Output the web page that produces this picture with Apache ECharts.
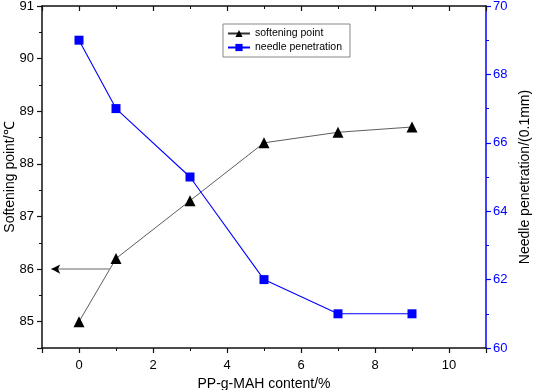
<!DOCTYPE html>
<html>
<head>
<meta charset="utf-8">
<script src="https://cdn.jsdelivr.net/npm/echarts@6/dist/echarts.min.js"></script>
<style>
html,body{margin:0;padding:0;background:#fff;}
#main{width:533px;height:390px;}
</style>
</head>
<body>
<div id="main"></div>
<script>
var content = [0, 1, 3, 5, 7, 9];
var softening = [85.0, 86.2, 87.3, 88.4, 88.6, 88.7];
var needle = [69, 67, 65, 62, 61, 61];
// arrow pointing to the left axis: [from, to]
var arrowLine = [[0.85, 86], [-0.75, 86]];

var myChart = echarts.init(document.getElementById('main'));

function pairs(xs, ys){
    var out = [];
    for (var i = 0; i < xs.length; i++) out.push([xs[i], ys[i]]);
    return out;
}

var font = 'Liberation Sans, Arial, sans-serif';
var black = '#111';
var blue = '#0000ff';

myChart.setOption({
    animation: false,
    grid: {left: 42, right: 47, top: 6, bottom: 42, outerBoundsMode: 'none', containLabel: false},
    legend: {
        left: 223, top: 24, orient: 'vertical',
        itemGap: 3, itemWidth: 22, itemHeight: 9,
        padding: [4, 8, 4, 4],
        borderColor: '#888', borderWidth: 1,
        textStyle: {fontFamily: font, fontSize: 10.5, color: '#000'},
        data: ['softening point', 'needle penetration']
    },
    xAxis: [{
        type: 'value', min: -1, max: 11,
        name: 'PP-g-MAH content/%', nameLocation: 'middle', nameGap: 28,
        nameTextStyle: {fontFamily: font, fontSize: 14, color: '#000'},
        axisLine: {onZero: false, lineStyle: {color: black, width: 1.5}},
        axisTick: {length: 5, lineStyle: {color: black, width: 1.2}},
        minorTick: {show: true, splitNumber: 2, length: 3, lineStyle: {color: black}},
        axisLabel: {showMinLabel: false, showMaxLabel: false, fontFamily: font, fontSize: 13, color: '#000', margin: 11},
        splitLine: {show: false}
    }, {
        type: 'value', min: -1, max: 11, position: 'top',
        axisLine: {onZero: false, lineStyle: {color: black, width: 1.5}},
        axisTick: {inside: true, length: 5, lineStyle: {color: black, width: 1.2}},
        minorTick: {show: true, splitNumber: 2, length: 3, lineStyle: {color: black}},
        axisLabel: {show: false},
        splitLine: {show: false}
    }],
    yAxis: [{
        type: 'value', min: 84.5, max: 91, splitNumber: 6,
        name: 'Softening point/℃', nameLocation: 'middle', nameGap: 25, nameMoveOverlap: false,
        nameTextStyle: {fontFamily: font, fontSize: 14, color: '#000'},
        axisLine: {show: true, onZero: false, lineStyle: {color: black, width: 1.5}},
        axisTick: {length: 5, lineStyle: {color: black, width: 1.2}},
        minorTick: {show: true, splitNumber: 2, length: 3, lineStyle: {color: black}},
        axisLabel: {showMinLabel: false, fontFamily: font, fontSize: 13, color: '#000', margin: 8},
        splitLine: {show: false}
    }, {
        type: 'value', min: 60, max: 70, interval: 2, position: 'right',
        name: 'Needle penetration/(0.1mm)', nameLocation: 'middle', nameGap: 30, nameRotate: 90,
        nameTextStyle: {fontFamily: font, fontSize: 14, color: '#000'},
        axisLine: {show: true, onZero: false, lineStyle: {color: blue, width: 1.5}},
        axisTick: {length: 5, lineStyle: {color: blue, width: 1.2}},
        minorTick: {show: true, splitNumber: 2, length: 3, lineStyle: {color: blue}},
        axisLabel: {fontFamily: font, fontSize: 13, color: blue, margin: 7},
        splitLine: {show: false}
    }],
    series: [{
        name: 'softening point',
        type: 'line',
        yAxisIndex: 0,
        data: pairs(content, softening),
        symbol: 'triangle', symbolSize: 11,
        itemStyle: {color: '#000'},
        lineStyle: {color: '#333', width: 0.8},
        markLine: {
            silent: true,
            symbol: ['none', 'none'],
            label: {show: false},
            lineStyle: {color: '#999', width: 1.5, type: 'solid'},
            data: [[{coord: arrowLine[0]}, {coord: arrowLine[1]}]]
        },
        markPoint: {
            silent: true,
            symbol: 'arrow', symbolSize: [7, 9], symbolRotate: 90,
            itemStyle: {color: '#000'},
            label: {show: false},
            data: [{coord: arrowLine[1]}]
        }
    }, {
        name: 'needle penetration',
        type: 'line',
        yAxisIndex: 1,
        data: pairs(content, needle),
        symbol: 'rect', symbolSize: 9,
        itemStyle: {color: blue},
        lineStyle: {color: blue, width: 1.1}
    }]
});
</script>
</body>
</html>
